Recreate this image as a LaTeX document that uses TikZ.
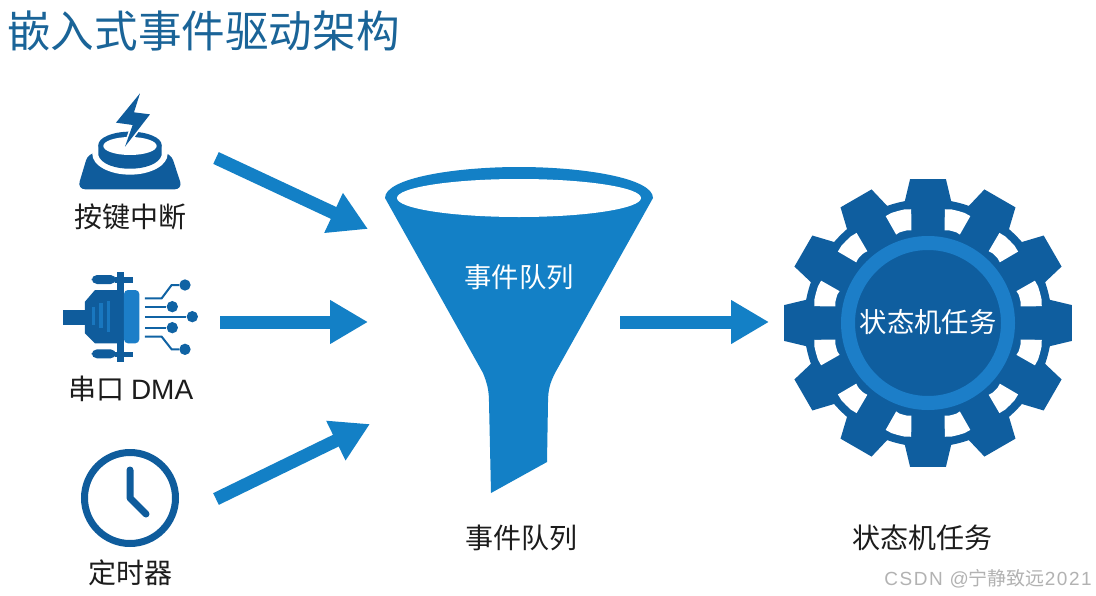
\documentclass[tikz,border=0pt]{standalone}
\usepackage{fontspec}
\setmainfont{Noto Sans CJK SC}
\newfontfamily\latinfont{Liberation Sans}
\newfontfamily\markfont[LetterSpace=8]{Liberation Sans}
\usetikzlibrary{arrows.meta}
\definecolor{gearblue}{HTML}{0F5E9F}
\definecolor{pipeblue}{HTML}{1380C6}
\definecolor{ringblue}{HTML}{1C7EC8}
\definecolor{titleblue}{HTML}{1A6498}
\definecolor{iconblue}{HTML}{0F5C9C}
\definecolor{textdark}{HTML}{1C1C1C}
\tikzset{
  bigarrow/.style={draw=pipeblue, line width=9.75pt, -{Triangle[length=28.5pt,width=31pt]}},
  caption/.style={text=textdark, font=\fontsize{21pt}{25pt}\selectfont, inner sep=0pt},
  inlabel/.style={text=white, font=\fontsize{20.5pt}{24pt}\selectfont, inner sep=0pt},
  trace/.style={draw=iconblue!80!pipeblue, line width=1.5pt},
  tracedot/.style={circle, fill=iconblue!80!pipeblue, minimum size=8.5pt, inner sep=0pt}
}
\begin{document}
\begin{tikzpicture}[x=0.75pt,y=-0.75pt]
  \useasboundingbox (0,0) rectangle (1096,596);
  \fill[white] (0,0) rectangle (1096,596);

  % Title
  \node[text=titleblue, font=\fontsize{32.7pt}{38pt}\selectfont, inner sep=0pt, anchor=west] (title) at (7,31) {嵌入式事件驱动架构};

  % Button icon
  \begin{scope}[shift={(40,80)},scale=0.3333]
    \fill[iconblue, rounded corners=6pt] (145,218) -- (112,328) -- (428,328) -- (392,218) -- cycle;
    \fill[white] (270,222) ellipse (113 and 62);
    \fill[iconblue] (175,195) -- (175,225) .. controls (190,280) and (350,280) .. (365,225) -- (365,195) -- cycle;
    \fill[iconblue] (270,195) ellipse (95 and 40);
    \fill[white] (270,198) ellipse (80 and 27);
    \path[draw=white, line width=2.5pt, line join=round] (300,40) -- (228,128) -- (278,135) -- (255,200) -- (330,103) -- (282,97) -- cycle;
    \fill[iconblue] (300,40) -- (228,128) -- (278,135) -- (255,200) -- (330,103) -- (282,97) -- cycle;
  \end{scope}
  \node[caption] (btnlabel) at (130,217) {按键中断};

  % Serial connector icon
  \begin{scope}[shift={(40,260)},scale=0.3333]
    \fill[iconblue] (70,150) rectangle (140,195);
    \fill[iconblue] (135,125) -- (165,90) -- (252,90) -- (252,250) -- (165,250) -- (135,220) -- cycle;
    \fill[ringblue, rounded corners=3pt] (252,90) -- (298,90) -- (298,250) -- (252,250) -- cycle;
    \fill[iconblue, rounded corners=4pt] (155,45) rectangle (228,72);
    \fill[iconblue] (230,35) rectangle (252,90);
    \fill[iconblue] (225,52) rectangle (278,68);
    \fill[iconblue, rounded corners=4pt] (155,268) rectangle (228,295);
    \fill[iconblue] (230,250) rectangle (252,305);
    \fill[iconblue] (225,275) rectangle (278,290);
    \fill[ringblue!80!iconblue] (155,140) rectangle (165,195);
    \fill[ringblue!80!iconblue] (178,130) rectangle (188,205);
    \fill[ringblue!80!iconblue] (200,122) rectangle (210,215);
    \node[tracedot] (dota) at (435,75) {};
    \node[tracedot] (dotb) at (397,140) {};
    \node[tracedot] (dotc) at (457,170) {};
    \node[tracedot] (dotd) at (397,203) {};
    \node[tracedot] (dote) at (435,268) {};
    \coordinate (pina) at (315,115);
    \coordinate (pinb) at (315,140);
    \coordinate (pinc) at (315,170);
    \coordinate (pind) at (315,203);
    \coordinate (pine) at (315,230);
    \draw[trace] (pina) -- ++(50,0) -- ++(30,-40) -- (dota);
    \draw[trace] (pinb) -- (dotb);
    \draw[trace] (pinc) -- (dotc);
    \draw[trace] (pind) -- (dotd);
    \draw[trace] (pine) -- ++(50,0) -- ++(30,38) -- (dote);
  \end{scope}
  \node[caption] (dmalabel) at (131,389) {串口 {\latinfont DMA}};

  % Clock icon
  \draw[iconblue, line width=5.25pt] (130,498) circle[radius=45.5];
  \draw[iconblue, line width=5.25pt, line cap=round, line join=round] (130,470) -- (130,498) -- (146,514);
  \node[caption] (timerlabel) at (130,573) {定时器};

  % Funnel
  \fill[pipeblue] (385,198) .. controls (385,178) and (455,167) .. (519,167) .. controls (583,167) and (653,178) .. (653,198)
    -- (555,373) .. controls (550,383) and (548,390) .. (548,402) -- (547,462) -- (491,493) -- (489,402) .. controls (489,390) and (487,383) .. (483,373) -- cycle;
  \fill[white] (519,198) ellipse (122 and 19);
  \node[inlabel] (funneltext) at (519,277) {事件队列};
  \node[caption] (funnellabel) at (521,538) {事件队列};

  % Gear
  \begin{scope}[shift={(928,323)}]
    \fill[gearblue] (0,0) circle[radius=124];
    \foreach \ang in {0,30,...,330} {
      \fill[gearblue] (\ang-11.2:122) -- (\ang-7.1:145) -- (\ang+7.1:145) -- (\ang+11.2:122) -- cycle;
    }
    % Windows between the spokes
    \foreach \ang in {15,45,...,345} {
      \fill[white] (\ang-6.6:115) -- (\ang-3.3:116) -- (\ang:116) -- (\ang+3.3:116) -- (\ang+6.6:115) -- (\ang+4.8:94) -- (\ang+2.4:95) -- (\ang:95) -- (\ang-2.4:95) -- (\ang-4.8:94) -- cycle;
    }
  \end{scope}
  \node[circle, fill=gearblue, draw=ringblue, line width=10.5pt, minimum size=120pt, inner sep=0pt] (gearhub) at (928,323) {};
  \node[inlabel] (geartext) at (928,322) {状态机任务};
  \node[caption] (gearlabel) at (922,538) {状态机任务};

  % Arrows between the stages
  \coordinate (btnout) at (216,158);
  \coordinate (dmaout) at (220,322);
  \coordinate (timerout) at (216,499);
  \coordinate (funnelina) at (368,229);
  \coordinate (funnelinb) at (368,322);
  \coordinate (funnelinc) at (370,424);
  \coordinate (funnelout) at (620,322);
  \coordinate (gearin) at (769,322);
  \draw[bigarrow] (btnout) -- (funnelina);
  \draw[bigarrow] (dmaout) -- (funnelinb);
  \draw[bigarrow] (timerout) -- (funnelinc);
  \draw[bigarrow] (funnelout) -- (gearin);

  % Watermark
  \node[text=black!30, font=\fontsize{14.25pt}{17pt}\selectfont, inner sep=0pt, anchor=east] (mark) at (1092,579) {{\markfont CSDN @}宁静致远{\markfont 2021}};
\end{tikzpicture}
\end{document}
